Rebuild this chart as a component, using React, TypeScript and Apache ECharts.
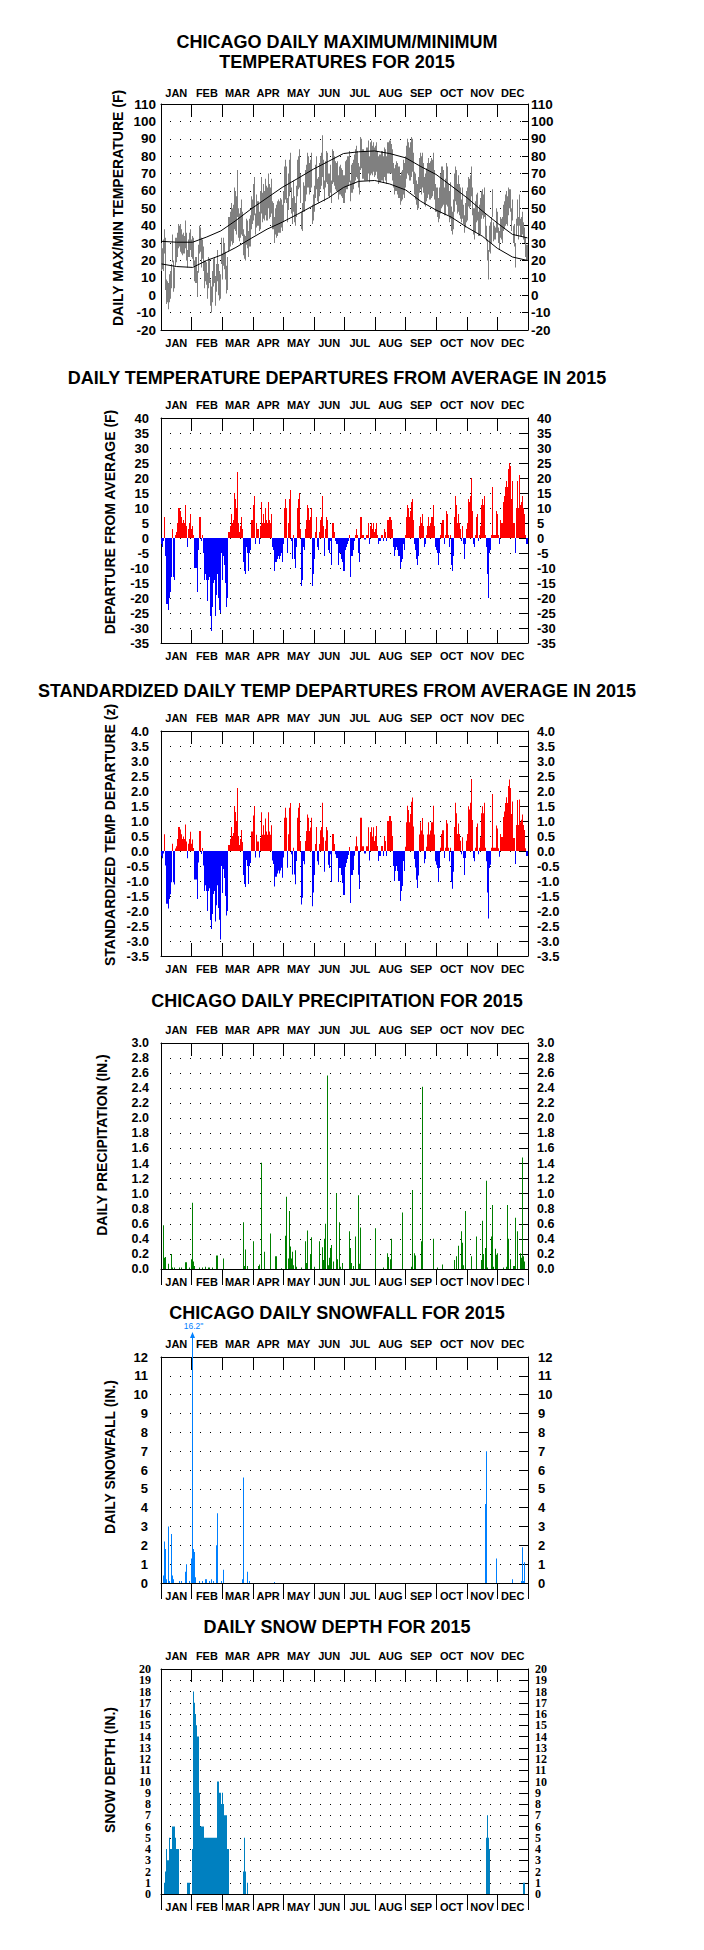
import React, { useEffect, useRef } from "react";
import * as echarts from "echarts";

// ---------- DATA ----------
const MONTHS = ["JAN", "FEB", "MAR", "APR", "MAY", "JUN", "JUL", "AUG", "SEP", "OCT", "NOV", "DEC"];

// Daily maximum temperature (F), day index 0 = Jan 1
const dailyMax = [
  30,27,32,38,33,9,8,7,12,14,18,35,20,16,33,33,36,41,40,41,38,35,36,34,43,36,26,32,36,38,32,
  34,33,20,22,22,14,29,40,39,33,32,28,20,20,19,13,22,21,9,5,14,21,22,11,18,26,18,14,
  12,33,24,33,30,25,17,22,45,45,48,53,50,52,62,60,57,72,50,47,50,55,48,38,35,34,44,43,37,44,46,
  57,55,64,68,47,58,54,54,48,60,68,59,64,60,67,63,62,70,64,62,67,54,53,45,50,52,54,55,54,56,
  55,52,60,74,78,74,56,70,78,82,62,56,66,57,53,63,78,80,84,70,48,53,65,63,72,75,82,80,76,78,82,
  52,58,63,75,80,67,68,76,80,82,92,78,66,77,83,82,70,70,75,66,84,83,80,77,76,77,69,74,75,73,
  72,69,77,78,80,80,83,66,75,76,78,81,84,86,83,76,74,91,90,84,84,83,83,85,85,89,80,88,89,86,88,
  85,86,88,83,80,81,81,83,83,80,85,84,80,88,88,89,89,87,84,76,73,75,77,76,74,74,69,71,72,78,76,
  80,86,90,88,85,88,91,90,82,71,70,66,64,68,79,82,80,82,76,68,70,73,76,79,76,77,79,78,82,72,
  64,62,62,56,62,70,74,74,72,62,67,76,74,64,60,65,51,48,55,70,74,72,64,69,64,62,55,62,52,46,53,
  60,62,68,67,69,74,62,50,50,54,58,59,48,52,56,60,61,58,62,47,40,32,26,40,42,45,61,42,40,39,
  50,48,39,37,45,44,45,52,54,58,60,57,62,61,61,50,55,40,41,30,44,55,45,58,44,45,48,42,39,33,29,
];

// Daily minimum temperature (F)
const dailyMin = [
  14,15,14,24,3,-5,-4,-8,-4,-2,4,19,2,4,17,19,22,27,28,25,24,23,24,24,27,20,16,22,22,26,22,
  21,17,8,7,7,-1,13,24,25,16,21,14,4,8,6,-2,4,7,-6,-10,-4,5,7,-6,2,8,0,-3,
  -2,18,9,17,15,9,1,3,25,26,28,31,29,30,38,37,35,45,33,31,33,35,34,23,21,20,29,27,22,28,28,
  38,41,43,46,35,39,40,40,37,38,47,42,44,43,46,43,43,50,44,45,47,38,38,30,35,33,34,36,36,36,
  39,37,42,53,55,53,42,49,57,60,47,41,48,42,40,45,57,61,62,53,38,37,48,48,54,58,62,62,58,60,62,
  41,43,48,56,61,54,53,57,61,63,68,61,54,62,65,64,57,56,59,53,64,65,63,61,60,60,55,58,58,57,
  56,53,59,61,61,63,65,54,59,59,61,64,66,68,67,62,58,72,73,67,67,66,66,66,66,70,65,69,70,69,71,
  68,69,71,67,64,65,65,66,66,65,68,66,64,70,70,70,70,70,66,62,58,60,60,58,56,56,52,54,55,58,56,
  62,67,70,69,66,66,68,71,64,58,55,52,49,50,59,61,58,62,59,52,51,54,56,58,55,55,56,57,60,55,
  48,48,45,42,44,47,50,51,52,46,46,52,51,46,42,44,37,35,38,48,54,52,47,48,46,44,42,44,41,36,39,
  42,43,51,50,51,57,46,35,32,36,42,43,34,34,35,44,46,44,45,33,31,20,9,25,24,30,45,31,32,32,
  36,36,30,26,33,32,30,37,38,40,41,40,46,50,48,37,43,30,28,16,34,40,32,40,34,34,35,32,30,22,20,
];

// Normal (average) high / low temperatures, read at these day indexes
const normalDays = [0, 15, 31, 45, 59, 74, 90, 105, 120, 135, 151, 166, 181, 196, 212, 227, 243, 258, 273, 288, 304, 319, 334, 349, 364];
const normalHigh = [31, 30.5, 30.5, 33.5, 37, 43, 50, 56, 62, 67, 72.5, 77, 81.5, 82.5, 83, 81.5, 79, 74, 69.5, 63, 56, 48.5, 41.5, 35, 33];
const normalLow = [18, 16.5, 16, 20, 23, 27.5, 33, 38, 42, 46.5, 51.5, 56, 62, 65.5, 66, 64, 60.5, 54, 49, 45, 39, 34, 27, 22, 20];

// Daily mean temperature departure from average (F)
const departureF = [
  -2,-3,-1,7,-6,-22,-22,-24,-20,-18,-13,3,-13,-14,1,2,5,10,10,9,7,5,6,5,11,4,-3,3,5,8,3,
  4,1,-10,-10,-10,-18,-4,7,7,-1,1,-5,-14,-12,-14,-21,-14,-13,-26,-31,-23,-15,-14,-26,-19,-12,-20,-24,
  -25,-5,-14,-6,-9,-15,-23,-20,2,2,4,8,5,6,15,13,10,22,5,2,4,7,3,-8,-11,-12,-3,-5,-11,-5,-4,
  6,6,11,14,-2,5,3,3,-2,4,12,5,8,5,10,6,5,12,6,5,8,-3,-4,-11,-8,-8,-7,-6,-7,-6,
  -5,-8,-2,10,13,10,-5,5,13,16,-1,-7,1,-7,-10,-3,10,13,15,3,-16,-14,-3,-4,3,6,11,10,6,7,10,
  -16,-12,-7,2,7,-3,-4,2,6,7,14,4,-6,3,7,6,-4,-5,-1,-9,5,5,2,-1,-2,-2,-9,-5,-5,-7,
  -8,-11,-4,-3,-2,-1,1,-13,-6,-6,-4,-1,1,3,1,-5,-8,7,7,1,1,-0.5,-0.5,1,1,5,-2,4,5,3,5,
  2,3,5,1,-2,-1,-1,1,1,-1,3,2,-1,6,6,7,7,6,3,-3,-6,-4,-3,-4,-6,-6,-10,-8,-7,-2,-4,
  1,7,11,10,7,9,12,13,6,-2,-4,-7,-9,-6,4,7,5,8,4,-3,-2,1,4,7,4,5,7,7,11,4,
  -3,-4,-5,-9,-5,1,5,6,6,-2,1,9,8,1,-3,1,-9,-11,-6,7,14,11,5,8,5,3,-1,4,-2,-7,-2,
  3,5,13,12,14,20,9,-2,-3,1,7,8,-1,1,4,11,13,11,14,1,-3,-12,-20,-5,-4,1,17,1,1,1,
  9,8,1,-2,6,5,5,12,14,17,19,17,23,25,24,13,19,5,5,-5,10,19,10,21,11,12,14,10,8,1,-2,
];

// Standardized daily departure (z)
const departureZ = [
  -0.16,-0.24,-0.08,0.56,-0.48,-1.76,-1.76,-1.92,-1.6,-1.44,-1.04,0.24,-1.04,-1.12,0.08,0.16,0.4,0.8,0.8,0.72,0.56,0.4,0.48,0.4,0.88,0.32,-0.24,0.24,0.4,0.64,0.24,
  0.38,0.1,-0.95,-0.95,-0.95,-1.6,-0.38,0.67,0.67,-0.1,0.1,-0.48,-1.33,-1.14,-1.33,-2.0,-1.33,-1.24,-2.3,-2.6,-2.1,-1.43,-1.33,-2.35,-1.81,-1.14,-1.9,-2.29,
  -2.95,-0.5,-1.4,-0.6,-0.9,-1.5,-2.15,-2.0,0.2,0.2,0.4,0.8,0.5,0.6,1.5,1.3,1.0,2.1,0.5,0.2,0.4,0.7,0.3,-0.8,-1.1,-1.2,-0.3,-0.5,-1.1,-0.5,-0.4,
  0.65,0.65,1.18,1.5,-0.22,0.54,0.32,0.32,-0.22,0.43,1.29,0.54,0.86,0.54,1.08,0.65,0.54,1.29,0.65,0.54,0.86,-0.32,-0.43,-1.18,-0.86,-0.86,-0.75,-0.65,-0.75,-0.65,
  -0.56,-0.89,-0.22,1.11,1.44,1.11,-0.56,0.56,1.44,1.6,-0.11,-0.78,0.11,-0.78,-1.11,-0.33,1.11,1.44,1.6,0.33,-1.78,-1.56,-0.33,-0.44,0.33,0.67,1.22,1.11,0.67,0.78,1.11,
  -1.84,-1.38,-0.8,0.23,0.8,-0.34,-0.46,0.23,0.69,0.8,1.61,0.46,-0.69,0.34,0.8,0.69,-0.46,-0.57,-0.11,-1.03,0.57,0.57,0.23,-0.11,-0.23,-0.23,-1.03,-0.57,-0.57,-0.8,
  -1.07,-1.47,-0.53,-0.4,-0.27,-0.13,0.13,-1.73,-0.8,-0.8,-0.63,-0.16,0.16,0.48,0.16,-0.79,-1.27,1.11,1.11,0.16,0.16,-0.08,-0.08,0.16,0.16,0.79,-0.32,0.63,0.79,0.48,0.79,
  0.33,0.5,0.83,0.17,-0.33,-0.17,-0.17,0.17,0.17,-0.17,0.5,0.33,-0.17,1.0,1.0,1.17,1.17,1.0,0.5,-0.5,-1.0,-0.67,-0.5,-0.67,-1.0,-1.0,-1.67,-1.33,-1.17,-0.33,-0.67,
  0.14,0.96,1.51,1.37,0.96,1.23,1.64,1.78,0.82,-0.27,-0.55,-0.96,-1.23,-0.82,0.55,0.96,0.68,1.1,0.55,-0.41,-0.27,0.14,0.55,0.96,0.55,0.68,0.96,0.96,1.51,0.55,
  -0.34,-0.46,-0.57,-1.03,-0.57,0.11,0.57,0.69,0.69,-0.23,0.11,1.03,0.92,0.11,-0.34,0.11,-1.03,-1.26,-0.69,0.8,1.61,1.26,0.57,0.92,0.57,0.34,-0.11,0.46,-0.23,-0.8,-0.23,
  0.34,0.57,1.49,1.38,1.61,2.4,1.03,-0.23,-0.34,0.11,0.8,0.92,-0.11,0.11,0.46,1.26,1.49,1.26,1.61,0.11,-0.34,-1.38,-2.25,-0.57,-0.46,0.11,1.9,0.11,0.11,0.11,
  0.85,0.75,0.09,-0.19,0.57,0.47,0.47,1.13,1.32,1.6,1.79,1.6,2.17,2.38,2.1,1.23,1.65,0.43,0.43,-0.43,0.87,1.7,0.87,1.72,0.96,1.04,1.22,0.87,0.7,0.09,-0.17,
];

// [day index, inches]
const precipitation = [
  [2,0.58],[3,0.15],[4,0.16],[7,0.07],[10,0.2],[11,0.02],[13,0.02],[18,0.02],[20,0.02],[24,0.09],[25,0.09],[28,0.02],
  [30,0.13],[31,0.88],[32,0.1],[33,0.04],[38,0.02],[41,0.02],[44,0.03],[47,0.02],[48,0.02],[51,0.02],[55,0.18],[56,0.18],
  [62,0.14],[82,0.62],[83,0.04],[84,0.26],[86,0.04],[92,0.37],[97,0.04],[98,0.06],[100,1.41],[103,0.23],[109,0.47],
  [114,0.17],[115,0.17],[120,0.01],[124,0.44],[125,0.96],[127,0.14],[128,0.77],[129,0.3],[130,0.14],[131,0.23],[132,0.05],
  [134,0.25],[135,0.03],[140,0.02],[144,0.37],[145,0.08],[146,0.51],[149,0.2],[150,0.42],[153,0.03],[158,0.37],[161,0.29],
  [162,0.12],[163,0.4],[164,0.6],[166,2.57],[167,0.05],[168,0.15],[169,0.28],[170,0.32],[172,0.1],[175,1.01],[176,0.13],
  [178,0.62],[179,0.03],[181,0.08],[187,0.5],[188,0.28],[189,0.08],[191,0.04],[193,0.43],[196,0.98],[197,0.07],[198,0.55],
  [213,0.54],[221,0.02],[225,0.21],[226,0.16],[228,0.13],[229,0.4],[240,0.75],[249,0.03],[250,1.05],[252,0.21],[253,0.18],
  [259,0.37],[260,2.42],[271,0.4],[275,0.02],[280,0.06],[292,0.12],[294,0.17],[296,0.31],[299,0.5],[300,0.35],[301,0.05],
  [303,0.77],[309,0.17],[314,0.43],[319,0.12],[320,0.64],[321,0.2],[323,0.28],[324,1.17],[325,0.02],[329,0.43],[330,0.85],
  [331,0.03],[333,0.27],[334,0.19],[335,0.21],[341,0.02],[344,0.03],[345,0.85],[346,0.4],[348,0.13],[351,0.04],[352,0.04],
  [353,0.68],[355,0.5],[358,0.21],[359,0.15],[360,1.48],[361,0.17],[362,0.1],
];

// [day index, inches]
const snowfall = [
  [2,0.4],[3,2.2],[4,1.8],[5,0.2],[7,3.0],[8,0.1],[10,2.6],[11,0.4],[12,0.2],[18,0.1],[20,0.1],[24,0.6],[25,1.0],[28,0.1],
  [30,1.3],[31,16.2],[32,1.8],[33,1.65],[34,0.3],[38,0.1],[41,0.1],[44,0.2],[45,0.2],[48,0.1],[50,0.2],[52,0.1],[55,2.0],
  [56,3.7],[60,0.1],[62,0.7],[81,0.2],[82,5.6],[86,0.6],[88,0.1],[113,0.05],[323,4.2],[324,7.0],[334,1.3],[350,0.2],
  [359,0.1],[360,1.9],[361,0.1],[362,1.1],
];

// [day index, inches]
const snowDepth = [
  [3,1],[4,2],[5,4],[6,3],[7,3],[8,5],[9,4],[10,4],[11,6],[12,6],[13,6],[14,5],[15,4],[16,4],[17,4],
  [26,1],[27,1],[28,1],[31,4],[32,18],[33,17],[34,16],[35,15],[36,14],[37,14],[38,9],[39,6],[40,6],[41,6],[42,6],
  [43,5],[44,5],[45,5],[46,5],[47,5],[48,5],[49,5],[50,5],[51,5],[52,5],[53,5],[54,5],[55,5],
  [56,10],[57,10],[58,9],[59,9],[60,8],[61,9],[62,8],[63,7],[64,7],[65,7],[66,4],[67,4],
  [82,2],[83,5],[84,2],[86,1],[324,5],[325,7],[326,5],[327,4],[361,1],[362,1],
];

const TITLES = [
  { text: "CHICAGO DAILY MAXIMUM/MINIMUM", y: 42 },
  { text: "TEMPERATURES FOR 2015", y: 62 },
  { text: "DAILY TEMPERATURE DEPARTURES FROM AVERAGE IN 2015", y: 378 },
  { text: "STANDARDIZED DAILY TEMP DEPARTURES FROM AVERAGE IN 2015", y: 691 },
  { text: "CHICAGO DAILY PRECIPITATION FOR 2015", y: 1001 },
  { text: "CHICAGO DAILY SNOWFALL FOR 2015", y: 1313 },
  { text: "DAILY SNOW DEPTH FOR 2015", y: 1627 },
];

const Y_NAMES = [
  { text: "DAILY MAX/MIN TEMPERATURE (F)", x: 118, y: 208 },
  { text: "DEPARTURE FROM AVERAGE (F)", x: 110, y: 522 },
  { text: "STANDARDIZED TEMP DEPARTURE (z)", x: 110, y: 835 },
  { text: "DAILY PRECIPITATION (IN.)", x: 102, y: 1145 },
  { text: "DAILY SNOWFALL (IN.)", x: 110, y: 1457 },
  { text: "SNOW DEPTH (IN.)", x: 110, y: 1770 },
];

// ---------- STYLE / LAYOUT ----------
const SANS = '"Liberation Sans", Arial, Helvetica, sans-serif';
const SERIF = '"Liberation Serif", "Times New Roman", serif';
const GRAY = "#808080";
const RED = "#ff0000";
const BLUE = "#0000ff";
const GREEN = "#008000";
const SNOW_BLUE = "#0080ff";
const DEPTH_BLUE = "#0080c0";

const fmtInt = (v: number) => String(Math.round(v));
const fmt1 = (v: number) => (Math.abs(v) < 1e-9 ? 0 : v).toFixed(1);
const fmtEven = (v: number) => (Math.round(v) % 2 === 0 ? String(Math.round(v)) : "");
const fmtOdd = (v: number) => (Math.abs(Math.round(v) % 2) === 1 ? String(Math.round(v)) : "");

const PANELS = [
  { top: 104, h: 226, min: -20, max: 110, step: 10, fs: 13.5, lh: 14, fam: SANS, mL: 5, mR: 3, rTick: 6, botIn: true, topM: 6, fmt: fmtInt, split: false },
  { top: 418, h: 225, min: -35, max: 40, step: 5, fs: 13, lh: 13, fam: SANS, mL: 12, mR: 9, rTick: 9, botIn: true, topM: 8, fmt: fmtInt, split: false },
  { top: 731, h: 225, min: -3.5, max: 4, step: 0.5, fs: 13, lh: 13, fam: SANS, mL: 12, mR: 9, rTick: 9, botIn: true, topM: 8, fmt: fmt1, split: false },
  { top: 1043, h: 226, min: 0, max: 3, step: 0.2, fs: 12.5, lh: 12, fam: SANS, mL: 12, mR: 9, rTick: 9, botIn: false, topM: 8, fmt: fmt1, split: false },
  { top: 1357, h: 226, min: 0, max: 12, step: 1, fs: 13, lh: 14, fam: SANS, mL: 13, mR: 10, rTick: 9, botIn: false, topM: 8, fmt: fmtInt, split: false },
  { top: 1669, h: 225, min: 0, max: 20, step: 1, fs: 12, lh: 10, fam: SERIF, mL: 10, mR: 7, rTick: 9, botIn: false, topM: 8, fmt: fmtEven, split: true },
];

// bar from 0 (or low) to value, one day wide, clamped to the plot
function dayBar(colorFor: (v: number) => string, ranged = false) {
  return (params: any, api: any) => {
    const k = api.value(0) as number;
    const lo = ranged ? (api.value(1) as number) : 0;
    const hi = ranged ? (api.value(2) as number) : (api.value(1) as number);
    const cs = params.coordSys;
    const a = api.coord([k, lo]);
    const b = api.coord([k + 1, hi]);
    const x0 = Math.floor(a[0]);
    const x1 = Math.max(x0 + 1, Math.floor(b[0]));
    let y0 = Math.min(a[1], b[1]);
    let y1 = Math.max(a[1], b[1]);
    y0 = Math.max(y0, cs.y);
    y1 = Math.min(y1, cs.y + cs.height);
    if (y1 - y0 < 0.5) y1 = y0 + 1;
    return {
      type: "rect",
      shape: { x: x0, y: y0, width: x1 - x0, height: y1 - y0 },
      style: { fill: colorFor(hi) },
    };
  };
}

// value above the axis maximum: line continues past the frame with an arrow and the value
function overflowMarker(params: any, api: any) {
  const k = api.value(0) as number;
  const v = api.value(1) as number;
  const cs = params.coordSys;
  const a = api.coord([k, 0]);
  const x = Math.floor(a[0]) + 0.5;
  const top = cs.y;
  return {
    type: "group",
    children: [
      { type: "line", shape: { x1: x, y1: top, x2: x, y2: top - 22 }, style: { stroke: SNOW_BLUE, lineWidth: 1 } },
      { type: "polygon", shape: { points: [[x, top - 25], [x - 2.5, top - 19], [x + 2.5, top - 19]] }, style: { fill: SNOW_BLUE } },
      {
        type: "text",
        x: x + 1,
        y: top - 27,
        style: {
          text: v.toFixed(1) + '"',
          fill: SNOW_BLUE,
          fontSize: 8.5,
          lineHeight: 8,
          fontFamily: SANS,
          align: "center",
          verticalAlign: "bottom",
          textAlign: "center",
          textVerticalAlign: "bottom",
        },
      },
    ],
  };
}

function buildOption() {
  const grid: any[] = [];
  const xAxis: any[] = [];
  const yAxis: any[] = [];
  const extraY: any[] = [];

  PANELS.forEach((p, i) => {
    grid.push({ left: 161, width: 367, top: p.top, height: p.h, containLabel: false });
    // hidden day scale for data
    xAxis.push({ type: "value", gridIndex: i, min: 0, max: 365, show: false });
    const monthAxis = (position: "top" | "bottom") => ({
      type: "category",
      gridIndex: i,
      position,
      data: MONTHS,
      boundaryGap: true,
      axisLine: { show: true, onZero: false, lineStyle: { color: "#000", width: 1 } },
      axisTick: {
        show: true,
        interval: 0,
        inside: position === "top" ? true : p.botIn,
        length: position === "top" || p.botIn ? 13 : 16,
        lineStyle: { color: "#000", width: 1 },
      },
      axisLabel: {
        interval: 0,
        margin: position === "top" ? p.topM : 7,
        fontSize: 11,
        fontWeight: "bold",
        fontFamily: SANS,
        color: "#000",
      },
      splitLine: { show: false },
    });
    xAxis.push(monthAxis("bottom"));
    xAxis.push(monthAxis("top"));

    const baseY = {
      type: "value",
      gridIndex: i,
      min: p.min,
      max: p.max,
      interval: p.step,
      axisLine: { show: true, onZero: false, lineStyle: { color: "#000", width: 1 } },
    };
    const label = (margin: number, formatter: (v: number) => string) => ({
      margin,
      fontSize: p.fs,
      lineHeight: p.lh,
      fontWeight: "bold",
      fontFamily: p.fam,
      color: "#000",
      formatter,
      hideOverlap: false,
    });
    yAxis.push({
      ...baseY,
      position: "left",
      axisTick: { show: false },
      axisLabel: label(p.mL, p.fmt),
      splitLine: { show: true, lineStyle: { color: "#000", width: 1, type: [1, 9], dashOffset: 1 } },
    });
    yAxis.push({
      ...baseY,
      position: "right",
      axisTick: { show: true, inside: true, length: p.rTick, lineStyle: { color: "#000", width: 1 } },
      axisLabel: label(p.mR, p.fmt),
      splitLine: { show: false },
    });
    if (p.split) {
      // second label column for the odd values, so that crowded labels are all kept
      (["left", "right"] as const).forEach((pos) => {
        extraY.push({
          ...baseY,
          position: pos,
          axisLine: { show: false, onZero: false },
          axisTick: { show: false },
          axisLabel: label(pos === "left" ? p.mL : p.mR, fmtOdd),
          splitLine: { show: false },
        });
      });
    }
  });

  const ax = (i: number) => ({ xAxisIndex: 3 * i, yAxisIndex: 2 * i });

  const series: any[] = [
    {
      name: "Daily max/min",
      type: "custom",
      ...ax(0),
      silent: true,
      renderItem: dayBar(() => GRAY, true),
      encode: { x: 0, y: [1, 2] },
      data: dailyMax.map((mx, k) => [k, dailyMin[k], mx]),
    },
    {
      name: "Normal high",
      type: "line",
      ...ax(0),
      silent: true,
      symbol: "none",
      lineStyle: { color: "#000", width: 1 },
      data: normalDays.map((d, j) => [d + 0.5, normalHigh[j]]),
    },
    {
      name: "Normal low",
      type: "line",
      ...ax(0),
      silent: true,
      symbol: "none",
      lineStyle: { color: "#000", width: 1 },
      data: normalDays.map((d, j) => [d + 0.5, normalLow[j]]),
    },
    {
      name: "Departure (F)",
      type: "custom",
      ...ax(1),
      silent: true,
      renderItem: dayBar((v) => (v >= 0 ? RED : BLUE)),
      encode: { x: 0, y: 1 },
      data: departureF.map((v, k) => [k, v]),
    },
    {
      name: "Departure (z)",
      type: "custom",
      ...ax(2),
      silent: true,
      renderItem: dayBar((v) => (v >= 0 ? RED : BLUE)),
      encode: { x: 0, y: 1 },
      data: departureZ.map((v, k) => [k, v]),
    },
    {
      name: "Precipitation",
      type: "custom",
      ...ax(3),
      silent: true,
      renderItem: dayBar(() => GREEN),
      encode: { x: 0, y: 1 },
      data: precipitation,
    },
    {
      name: "Snowfall",
      type: "custom",
      ...ax(4),
      silent: true,
      renderItem: dayBar(() => SNOW_BLUE),
      encode: { x: 0, y: 1 },
      data: snowfall,
    },
    {
      name: "Snowfall overflow",
      type: "custom",
      ...ax(4),
      silent: true,
      renderItem: overflowMarker,
      encode: { x: 0, y: 1 },
      data: snowfall.filter((d) => d[1] > PANELS[4].max),
    },
    {
      name: "Snow depth",
      type: "custom",
      ...ax(5),
      silent: true,
      renderItem: dayBar(() => DEPTH_BLUE),
      encode: { x: 0, y: 1 },
      data: snowDepth,
    },
  ];

  const graphic: any[] = [
    ...TITLES.map((t) => ({
      type: "text",
      x: 337,
      y: t.y,
      silent: true,
      style: {
        text: t.text,
        fill: "#000",
        fontSize: 18,
        lineHeight: 14,
        fontWeight: "bold",
        fontFamily: SANS,
        align: "center",
        verticalAlign: "middle",
        textAlign: "center",
        textVerticalAlign: "middle",
      },
    })),
    ...Y_NAMES.map((t) => ({
      type: "text",
      x: t.x,
      y: t.y,
      rotation: Math.PI / 2,
      silent: true,
      style: {
        text: t.text,
        fill: "#000",
        fontSize: 14,
        fontWeight: "bold",
        fontFamily: SANS,
        align: "center",
        verticalAlign: "middle",
        textAlign: "center",
        textVerticalAlign: "middle",
      },
    })),
  ];

  return {
    animation: false,
    backgroundColor: "#ffffff",
    grid,
    xAxis,
    yAxis: [...yAxis, ...extraY],
    series,
    graphic,
  };
}

export default function App() {
  const ref = useRef<HTMLDivElement | null>(null);
  useEffect(() => {
    if (!ref.current) return;
    const chart = echarts.init(ref.current, undefined, { renderer: "svg" });
    chart.setOption(buildOption() as any);
    return () => chart.dispose();
  }, []);
  return (
    <div
      ref={ref}
      style={{ position: "absolute", left: 0, top: 0, width: 704, height: 1950, background: "#fff" }}
    />
  );
}
